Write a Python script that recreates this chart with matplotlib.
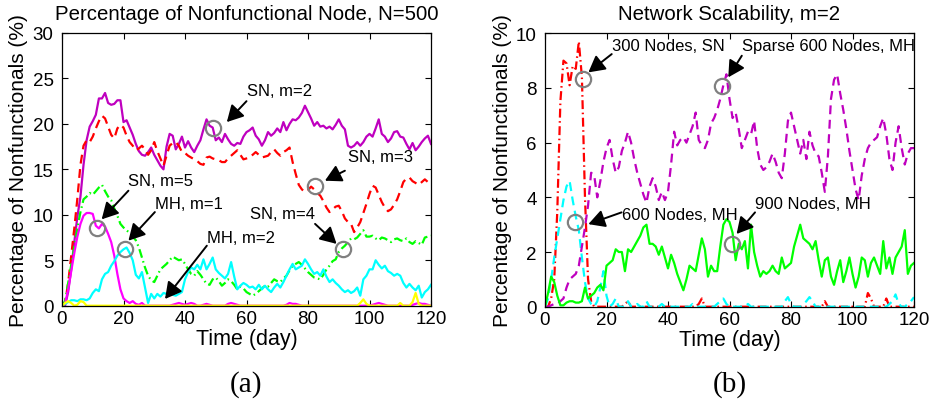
import matplotlib
matplotlib.use("Agg")
import matplotlib.pyplot as plt
import numpy as np

plt.rcParams['font.family'] = ['Liberation Sans', 'DejaVu Sans']

# ---------------- data: daily percentage of nonfunctional nodes ----------------
days = list(range(0, 121))

# (a) N = 500
sn_m2 = [0, 0, 1.5, 4, 7, 9.8, 12, 15.5, 18.2, 19.7, 20.3, 21.0, 22.8, 22.8, 23.4, 22.3, 22.1, 22.2, 22.6, 22.6,
         20.2, 20.4, 19.6, 18.8, 17.8, 17.0, 16.6, 16.5, 16.9, 17.4, 16.6, 16.0, 15.4, 15.0, 17.5, 18.9, 18.7, 17.2, 17.8, 18.6,
         17.4, 18.1, 17.4, 16.9, 17.6, 18.2, 19.4, 20.5, 19.8, 19.6, 18.2, 18.5, 18.0, 18.9, 18.3, 17.8, 17.6, 17.9, 17.8, 18.6,
         19.1, 19.3, 19.6, 18.7, 18.3, 17.6, 18.2, 19.1, 18.7, 19.0, 19.5, 19.1, 20.2, 19.3, 20.0, 20.5, 20.4, 20.7, 21.2, 22.0,
         21.3, 20.6, 19.8, 20.2, 19.7, 19.8, 19.5, 19.7, 19.4, 19.9, 20.5, 19.8, 19.4, 17.6, 17.4, 17.6, 18.0, 17.6, 18.0, 18.6,
         18.9, 18.6, 19.5, 20.5, 18.9, 18.6, 18.0, 18.4, 19.1, 19.2, 18.6, 18.5, 17.8, 17.2, 17.9, 17.1, 17.5, 18.0, 18.4, 18.7,
         17.8]
sn_m3 = [0, 0.3, 2.5, 5.5, 8.5, 11.8, 15.5, 17.6, 18.2, 18.0, 18.6, 19.5, 20.3, 20.9, 20.6, 19.7, 18.8, 18.4, 19.5, 19.9,
         19.6, 18.7, 18.0, 17.6, 17.1, 17.3, 17.6, 17.2, 16.6, 17.1, 18.0, 17.0, 16.2, 15.4, 16.5, 17.6, 17.9, 18.0, 17.6, 16.9,
         16.8, 16.5, 16.3, 16.1, 15.9, 15.6, 15.5, 16.3, 16.4, 16.2, 16.1, 16.0, 15.8, 15.8, 16.2, 16.5, 16.8, 17.1, 16.6, 16.1,
         16.2, 16.3, 16.6, 16.9, 16.6, 16.3, 16.4, 16.5, 16.9, 17.2, 16.8, 16.5, 16.9, 17.1, 17.4, 15.8, 14.5, 13.3, 12.8, 12.5,
         12.7, 13.1, 12.8, 12.4, 12.1, 11.5, 10.8, 10.3, 10.6, 10.9, 11.0, 10.4, 9.6, 9.2, 9.0, 8.1, 8.6, 9.2, 10.2, 11.2,
         12.3, 13.2, 13.0, 12.2, 11.4, 10.8, 10.4, 10.6, 11.1, 11.7, 12.6, 13.6, 14.0, 14.1, 13.7, 13.5, 13.3, 13.6, 13.9, 13.6,
         13.4]
sn_m4 = [0, 0.5, 2.5, 4.5, 6.5, 8.5, 10.3, 11.7, 12.0, 12.4, 12.2, 12.6, 13.0, 13.3, 12.6, 12.0, 11.6, 10.7, 9.9, 9.0,
         8.6, 8.3, 8.0, 7.6, 7.2, 6.4, 5.3, 4.2, 3.3, 2.8, 2.6, 3.3, 4.0, 4.3, 4.6, 5.0, 5.4, 5.2, 5.0, 5.1,
         4.6, 4.0, 3.5, 3.3, 3.8, 3.4, 2.9, 2.4, 2.3, 2.9, 3.1, 2.7, 2.2, 2.5, 2.9, 2.7, 2.3, 1.8, 2.1, 1.9,
         1.5, 1.3, 1.1, 1.3, 1.6, 1.9, 2.2, 2.1, 2.5, 2.9, 2.7, 2.6, 3.0, 3.3, 3.9, 4.4, 4.6, 4.8, 4.5, 4.1,
         3.7, 3.4, 3.1, 3.0, 2.9, 3.4, 4.0, 4.4, 4.9, 5.1, 5.9, 6.3, 6.6, 7.0, 7.4, 7.3, 7.5, 7.9, 8.3, 7.6,
         7.6, 7.7, 7.4, 7.2, 7.5, 7.4, 7.2, 7.0, 7.3, 7.4, 7.2, 7.1, 7.4, 7.0, 6.8, 7.1, 6.9, 6.7, 7.5, 7.6,
         7.7]
sn_m5 = [0, 0.2, 1.8, 3.8, 5.8, 7.6, 9.0, 9.9, 10.2, 10.2, 10.1, 8.8, 8.5, 9.0, 8.7, 7.9, 7.0, 5.5, 3.5, 1.8,
         0.8, 0.5, 0.3, 0.5, 0.2, 0.1, 0.3, 0, 0, 0, 0, 0, 0, 0, 0, 0, 0.1, 0.2, 0.3, 0.2,
         0.1, 0.2, 0.3, 0.2, 0, 0, 0.1, 0.2, 0.1, 0, 0, 0, 0, 0, 0.2, 0.3, 0.2, 0.1, 0, 0,
         0, 0, 0, 0, 0, 0, 0, 0, 0, 0, 0, 0, 0, 0.1, 0.3, 0.2, 0.2, 0.1, 0, 0,
         0, 0, 0, 0, 0, 0, 0, 0, 0, 0, 0, 0, 0, 0, 0, 0, 0, 0, 0, 0,
         0, 0.1, 0.2, 0.3, 0.2, 0.1, 0, 0, 0, 0, 0, 0, 0, 0, 0.1, 0.2, 0.3, 0.2, 0.2, 0.1,
         0]
mh_m1 = [0, 0.2, 0.4, 0.6, 0.6, 0.5, 0.7, 0.7, 0.6, 0.8, 1.4, 1.8, 1.6, 2.9, 3.5, 3.7, 4.4, 4.9, 5.5, 5.9,
         6.2, 6.4, 5.8, 5.0, 3.4, 3.0, 3.7, 2.0, 0.3, 1.3, 0.8, 1.3, 1.0, 1.4, 1.3, 1.5, 1.2, 1.1, 1.3, 1.5,
         2.9, 3.7, 4.2, 4.0, 4.5, 4.0, 5.1, 4.0, 4.6, 5.3, 4.0, 3.6, 3.3, 3.0, 3.5, 4.8, 3.2, 1.8, 2.2, 2.5,
         2.3, 2.0, 2.1, 1.8, 2.3, 1.8, 2.2, 1.8, 1.5, 2.0, 2.4, 2.0, 2.6, 3.3, 4.0, 4.6, 4.0, 4.2, 4.4, 5.1,
         4.6, 4.0, 3.5, 3.7, 3.3, 4.0, 3.2, 2.6, 2.9, 2.5, 2.2, 1.8, 1.5, 1.7, 1.4, 1.6, 2.0, 1.1, 2.9, 3.3,
         4.0, 4.0, 5.0, 4.5, 4.1, 4.4, 3.8, 3.6, 3.3, 3.5, 3.3, 2.5, 2.0, 2.4, 2.0, 1.7, 2.2, 0.9, 1.5, 1.8,
         2.3]
mh_m2 = [0, 0.3, 0.5, 0.3, 0, 0.1, 0.5, 0.4, 0, 0, 0, 0, 0, 0, 0, 0, 0, 0, 0, 0,
         0, 0, 0, 0, 0, 0, 0, 0, 0, 0, 0, 0, 0, 0, 0, 0, 0, 0, 0, 0,
         0, 0, 0, 0, 0, 0, 0, 0, 0, 0, 0, 0, 0, 0, 0, 0, 0, 0, 0, 0,
         0, 0, 0, 0, 0, 0, 0, 0, 0, 0, 0, 0, 0, 0, 0, 0, 0, 0, 0, 0,
         0, 0, 0, 0, 0, 0, 0, 0, 0, 0, 0, 0, 0, 0, 0, 0, 0, 0.3, 0.7, 0.2,
         0, 0, 0, 0, 0, 0, 0, 0, 0, 0, 0.3, 0, 0, 0, 0.4, 1.4, 0.2, 0, 0, 0,
         0]

# (b) network scalability, m = 2
sn_300 = [0, 0, 0.3, 1.0, 3.5, 7.5, 9.0, 8.9, 8.1, 8.8, 8.7, 9.7, 8.4, 4.0, 1.0, 0.2, 0, 0, 0, 0,
          0, 0, 0, 0, 0, 0, 0.1, 0.2, 0, 0, 0, 0, 0, 0, 0, 0, 0, 0, 0, 0,
          0, 0, 0, 0, 0, 0, 0, 0, 0, 0, 0.1, 0.3, 0, 0, 0, 0, 0, 0, 0, 0,
          0, 0, 0, 0, 0, 0, 0, 0, 0, 0, 0, 0, 0, 0, 0, 0, 0, 0, 0, 0,
          0, 0, 0, 0, 0, 0, 0, 0, 0, 0, 0, 0.2, 0, 0, 0, 0, 0, 0, 0, 0,
          0, 0, 0, 0, 0, 0.5, 0.3, 0, 0, 0, 0, 0.3, 0, 0, 0, 0, 0, 0, 0, 0,
          0]
mh_600 = [0, 0.3, 1.0, 1.8, 2.5, 3.2, 3.9, 4.4, 4.6, 3.9, 3.3, 2.8, 1.8, 0.9, 0.3, 0.1, 0, 0.2, 0.7, 1.3,
          0.4, 0, 0.1, 0.3, 0, 0, 0, 0.2, 0, 0, 0.1, 0, 0, 0.2, 0, 0, 0, 0, 0.1, 0,
          0, 0, 0, 0, 0, 0, 0, 0, 0.1, 0, 0, 0, 0, 0, 0, 0, 0.1, 0.2, 0.3, 0.1,
          0, 0, 0, 0, 0, 0, 0.1, 0, 0, 0, 0, 0, 0, 0, 0, 0, 0, 0, 0.2, 0.35,
          0.1, 0, 0, 0, 0.1, 0.2, 0.35, 0.2, 0, 0, 0, 0, 0, 0, 0, 0, 0, 0, 0, 0,
          0, 0, 0, 0, 0, 0, 0, 0, 0, 0, 0, 0, 0.1, 0.2, 0.45, 0.1, 0, 0, 0.1, 0.2,
          0.35]
mh_sparse600 = [0, 0, 0.05, 0.1, 0.1, 0.2, 0.3, 0.7, 1.0, 1.1, 1.2, 1.5, 2.2, 2.9, 3.7, 4.9, 4.8, 4.0, 4.6, 5.3,
                5.8, 6.1, 5.4, 4.9, 5.1, 5.7, 6.0, 6.4, 6.0, 5.4, 4.9, 4.5, 4.1, 3.8, 4.4, 4.7, 4.4, 3.9, 4.2, 3.9,
                4.2, 5.2, 6.4, 5.9, 6.1, 6.2, 6.0, 6.3, 6.6, 7.1, 6.1, 5.9, 5.8, 6.1, 6.7, 6.9, 7.2, 7.6, 8.1, 8.5,
                7.6, 6.9, 7.1, 6.5, 5.8, 6.1, 6.4, 6.3, 6.8, 5.8, 5.2, 5.0, 5.1, 5.3, 5.6, 5.3, 4.9, 4.7, 5.6, 6.8,
                7.1, 6.6, 6.1, 5.6, 6.1, 5.4, 6.4, 5.9, 5.6, 5.5, 4.9, 4.2, 5.5, 7.6, 8.3, 8.5, 7.8, 7.2, 6.5, 5.7,
                5.0, 4.3, 3.9, 4.8, 5.4, 5.8, 6.0, 6.1, 6.2, 6.6, 6.9, 6.3, 5.4, 5.0, 6.0, 6.6, 5.8, 5.2, 5.6, 5.8,
                5.8]
mh_900 = [0, 0.5, 1.1, 0.9, 0.4, 0.05, 0.05, 0.15, 0.2, 0.2, 0.15, 0.15, 0.2, 0.7, 0.3, 0.4, 0.5, 0.7, 0.8, 0.6,
          1.5, 1.6, 1.7, 2.1, 2.0, 2.0, 1.3, 2.1, 2.0, 2.2, 2.4, 2.6, 2.9, 3.0, 2.3, 2.3, 2.2, 1.9, 2.2, 1.8,
          1.4, 1.9, 1.6, 1.2, 0.9, 0.6, 1.0, 1.5, 1.4, 1.3, 1.9, 2.5, 2.1, 1.1, 1.5, 1.3, 1.3, 2.2, 3.0, 3.2,
          3.1, 2.7, 1.7, 2.3, 2.1, 2.4, 1.4, 3.0, 2.0, 1.5, 1.1, 1.3, 1.2, 1.3, 1.5, 1.3, 1.2, 1.8, 1.4, 1.5,
          1.6, 2.2, 2.6, 3.0, 2.5, 2.4, 2.3, 2.1, 2.4, 1.7, 1.1, 1.7, 1.8, 1.1, 0.8, 1.3, 1.7, 0.9, 1.3, 1.8,
          1.2, 0.7, 1.1, 1.8, 1.7, 1.1, 1.6, 1.8, 1.5, 1.2, 2.4, 1.4, 1.8, 1.2, 1.8, 2.0, 2.2, 2.8, 1.2, 1.5,
          1.6]

# annotations: (label, circled point, arrow tail, arrow tip, text anchor)
notes_a = [
    ("SN, m=2", (49.2, 19.5), (60.0, 22.5), (53.6, 20.2), (60.2, 23.7)),
    ("SN, m=3", (82.3, 13.2), (92.0, 14.85), (85.5, 13.75), (93.0, 16.4)),
    ("SN, m=5", (11.3, 8.6), (21.6, 12.65), (12.9, 9.5), (21.5, 13.8)),
    ("MH, m=1", (20.5, 6.2), (30.2, 10.3), (21.6, 7.15), (30.2, 11.2)),
    ("MH, m=2", None, (47.1, 6.6), (33.5, 0.74), (47.1, 7.55)),
    ("SN, m=4", (91.5, 6.2), (82.3, 9.0), (89.3, 6.8), (61.1, 10.1)),
]
notes_b = [
    ("300 Nodes, SN", (12.5, 8.33), (21.7, 9.24), (14.1, 8.57), (21.7, 9.57)),
    ("Sparse 600 Nodes, MH", (57.5, 8.08), (64.0, 9.18), (59.6, 8.39), (64.0, 9.57)),
    ("600 Nodes, MH", (9.76, 3.09), (24.9, 3.45), (14.1, 3.02), (24.9, 3.37)),
    ("900 Nodes, MH", (60.7, 2.29), (68.3, 3.45), (62.3, 2.66), (68.3, 3.76)),
]

PURPLE = '#BF00BF'
MAGENTA = '#FF00FF'
RED = '#FF0000'
GREEN = '#00FF00'
CYAN = '#00FFFF'
YELLOW = '#FFFF00'

DASH = (0, (4, 2.5))
DASHDOT = (0, (4, 1.6, 0.7, 1.6))
LW = 1.6

fig = plt.figure(figsize=(9.31, 4.06), dpi=100)
ax_a = fig.add_axes([62 / 931, 1 - 306.7 / 406, 369 / 931, 272.7 / 406])
ax_b = fig.add_axes([545 / 931, 1 - 307.7 / 406, 369 / 931, 273.4 / 406])

ax_a.plot(days, sn_m2, color=PURPLE, lw=LW, ls='-')
ax_a.plot(days, sn_m3, color=RED, lw=LW, ls=DASH)
ax_a.plot(days, sn_m4, color=GREEN, lw=LW, ls=DASHDOT)
ax_a.plot(days, sn_m5, color=MAGENTA, lw=LW, ls='-')
ax_a.plot(days, mh_m1, color=CYAN, lw=LW, ls='-')
ax_a.plot(days, mh_m2, color=YELLOW, lw=LW, ls='-')

ax_b.plot(days, sn_300, color=RED, lw=LW, ls=DASHDOT)
ax_b.plot(days, mh_600, color=CYAN, lw=LW, ls=DASH)
ax_b.plot(days, mh_sparse600, color=PURPLE, lw=LW, ls=DASH)
ax_b.plot(days, mh_900, color=GREEN, lw=LW, ls='-')


def decorate(ax, notes, title, ymax, ystep):
    ax.set_xlim(0, 120)
    ax.set_ylim(0, ymax)
    ax.set_xticks(range(0, 121, 20))
    ax.set_yticks(np.arange(0, ymax + 0.01, ystep))
    ax.tick_params(direction='in', top=True, right=True, length=4, width=0.8,
                   labelsize=13.5)
    ax.tick_params(axis='x', pad=3)
    ax.tick_params(axis='y', pad=6)
    for s in ax.spines.values():
        s.set_linewidth(0.9)
    ax.set_title(title, fontsize=14.7, pad=10)
    ax.set_xlabel('Time (day)', fontsize=15.5, labelpad=1)
    ax.set_ylabel('Percentage of Nonfunctionals (%)', fontsize=15, labelpad=3)
    for label, circ, tail, tip, txt in notes:
        if circ is not None:
            ax.plot([circ[0]], [circ[1]], marker='o', ms=11, mfc='none',
                    mec='#808080', mew=1.6, zorder=5)
        ax.annotate('', xy=tip, xytext=tail,
                    arrowprops=dict(arrowstyle='-|>,head_length=0.55,head_width=0.3',
                                    color='black', lw=1.4,
                                    mutation_scale=18, shrinkA=0, shrinkB=0),
                    zorder=6)
        ax.text(txt[0], txt[1], label, fontsize=12, ha='left', va='center',
                zorder=7)


decorate(ax_a, notes_a, 'Percentage of Nonfunctional Node, N=500', 30, 5)
decorate(ax_b, notes_b, 'Network Scalability, m=2', 10, 2)

# panel captions
fig.text(246 / 931, 1 - 385 / 406, '(a)', fontsize=21, ha='center', va='center',
         family=['Liberation Serif', 'DejaVu Serif'])
fig.text(730 / 931, 1 - 385 / 406, '(b)', fontsize=21, ha='center', va='center',
         family=['Liberation Serif', 'DejaVu Serif'])

fig.savefig('out.png', dpi=100)
